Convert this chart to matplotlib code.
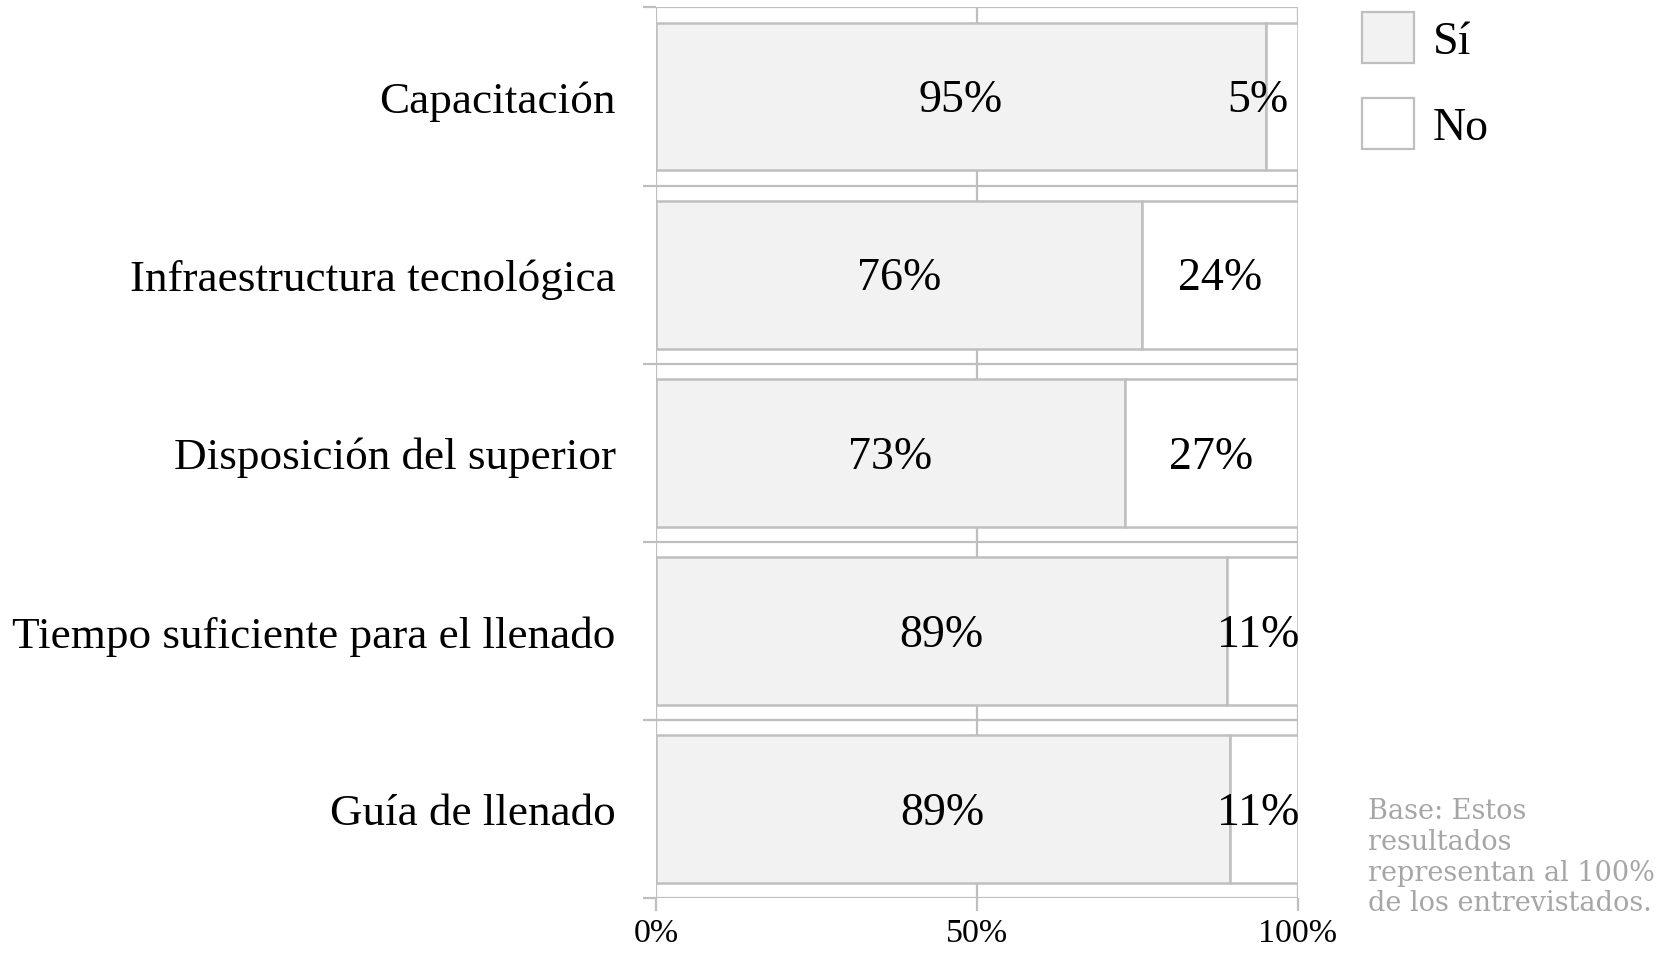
import numpy as np
import matplotlib.pyplot as plt
from matplotlib.patches import Patch

categorias = ['Capacitación', 'Infraestructura tecnológica', 'Disposición del superior',
              'Tiempo suficiente para el llenado', 'Guía de llenado']
si = [95.0, 75.8, 73.1, 89.0, 89.4]
no = [5.0, 24.2, 26.9, 11.0, 10.6]
ticks_x = [0, 50, 100]
nota = 'Base: Estos\nresultados\nrepresentan al 100%\nde los entrevistados.'

gris = '#bfbfbf'
plt.rcParams['font.family'] = ['Liberation Serif', 'DejaVu Serif']

fig = plt.figure(figsize=(16.69, 9.54), dpi=100)
ax = fig.add_axes([0.393, 0.0577, 0.3845, 0.9334])

y = np.arange(len(categorias))
ax.barh(y, si, height=0.83, color='#f2f2f2', edgecolor=gris, linewidth=1.8, label='Sí', zorder=3)
ax.barh(y, no, left=si, height=0.83, color='white', edgecolor=gris, linewidth=1.8, label='No', zorder=3)

# etiquetas de porcentaje dentro de cada segmento
for i in range(len(categorias)):
    ax.text(si[i] / 2, y[i] + 0.02, '%d%%' % round(si[i]), ha='center', va='center', fontsize=33, zorder=5)
    xc = min(si[i] + no[i] / 2, 93.8)
    ax.text(xc, y[i] + 0.02, '%d%%' % round(no[i]), ha='center', va='center', fontsize=33, zorder=5)

ax.set_xlim(0, 100)
ax.set_ylim(len(categorias) - 0.5, -0.5)
ax.set_xticks(ticks_x)
ax.set_xticklabels(['%d%%' % t for t in ticks_x], fontsize=24.5)
ax.set_yticks(y)
ax.set_yticklabels(categorias, fontsize=32.5)
ax.set_yticks(np.arange(-0.5, len(categorias)), minor=True)
ax.tick_params(axis='y', which='major', length=0, pad=29)
ax.tick_params(axis='y', which='minor', length=9.5, width=1.6, color=gris, direction='out')
ax.tick_params(axis='x', length=9, width=1.6, color=gris, direction='out', pad=5)
ax.grid(axis='x', color=gris, linewidth=1.6, zorder=1)
ax.grid(axis='y', which='minor', color=gris, linewidth=1.6, zorder=1)
for s in ax.spines.values():
    s.set_visible(False)

handles = [Patch(facecolor='#f2f2f2', edgecolor=gris, linewidth=1.6, label='Sí'),
           Patch(facecolor='white', edgecolor=gris, linewidth=1.6, label='No')]
fig.legend(handles=handles, loc='upper left', bbox_to_anchor=(1362 / 1669, 1 - 13 / 954),
           frameon=False, fontsize=33, handlelength=1.13, handleheight=1.32,
           handletextpad=0.42, labelspacing=0.78, borderpad=0, borderaxespad=0)

fig.text(1368 / 1669, 1 - 798 / 954, nota, color='#a6a6a6', fontsize=19.5,
         family='DejaVu Serif', ha='left', va='top', linespacing=1.18)

fig.savefig('out.png', dpi=100)
